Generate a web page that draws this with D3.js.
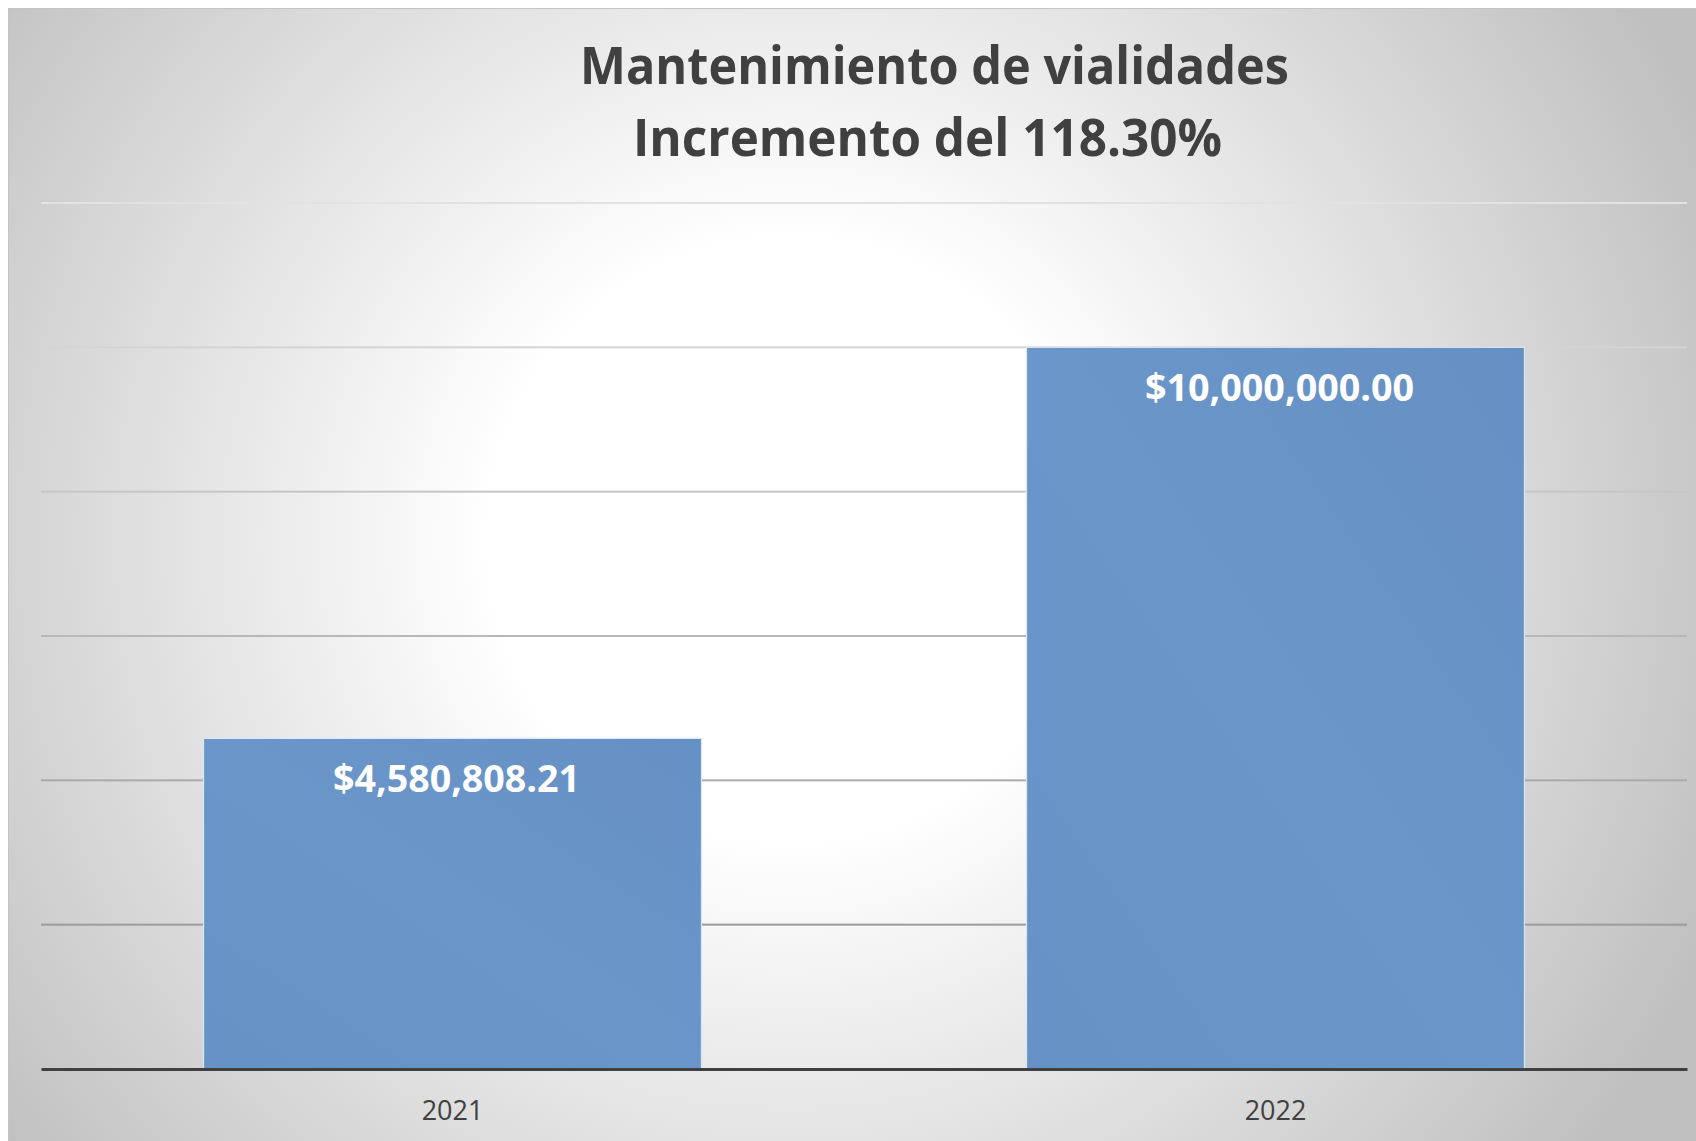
<!DOCTYPE html>
<html><head><meta charset="utf-8">
<script src="https://cdn.jsdelivr.net/npm/d3@7"></script>
<style>body{margin:0;background:#fff;}svg{display:block;}</style>
</head><body>
<svg id="c" width="1696" height="1141"></svg>
<script>
const titleLines = ["Mantenimiento de vialidades", "Incremento del 118.30%"];
const categories = ["2021", "2022"];
const values = [4580808.21, 10000000];
const valueLabels = ["$4,580,808.21", "$10,000,000.00"];
const yTicks = [0, 2000000, 4000000, 6000000, 8000000, 10000000, 12000000];

(function(){
const svg = d3.select("#c");
const W = 1696, H = 1141;
const pL = 41, pR = 1687, pT = 203, pB = 1069;
const defs = svg.append("defs");
const rg = defs.append("radialGradient").attr("id","bg").attr("gradientUnits","userSpaceOnUse")
  .attr("cx",790).attr("cy",540).attr("r",1000);
rg.append("stop").attr("offset",0).attr("stop-color","#ffffff");
rg.append("stop").attr("offset",0.3).attr("stop-color","#ffffff");
rg.append("stop").attr("offset",1).attr("stop-color","#c0c0c0");

const bg2 = defs.append("linearGradient").attr("id","bar").attr("x1",0).attr("y1",1).attr("x2",1).attr("y2",0);
bg2.append("stop").attr("offset",0).attr("stop-color","#6792c5");
bg2.append("stop").attr("offset",0.5).attr("stop-color","#6a96c9");
bg2.append("stop").attr("offset",1).attr("stop-color","#6690c4");

const gg = defs.append("linearGradient").attr("id","grid").attr("gradientUnits","userSpaceOnUse")
  .attr("x1",0).attr("y1",pT).attr("x2",0).attr("y2",pB);
gg.append("stop").attr("offset",0).attr("stop-color","#e2e2e2");
gg.append("stop").attr("offset",1).attr("stop-color","#8e8e8e");

svg.append("rect").attr("x",8.5).attr("y",8.5).attr("width",W-8).attr("height",H-8)
  .attr("fill","url(#bg)").attr("stroke","#c4c4c4").attr("stroke-width",1);

const x = d3.scaleBand().domain(categories).range([pL,pR]).paddingInner(0.395).paddingOuter(0.1975);
const y = d3.scaleLinear().domain([0,12000000]).range([pB,pT]);

// gridlines (drawn as rects so the vertical gradient applies)
svg.append("g").selectAll("rect").data(yTicks.filter(d=>d>0)).join("rect")
  .attr("x",pL).attr("width",pR-pL).attr("y",d=>y(d)-1).attr("height",2)
  .attr("fill","url(#grid)");

// bars
svg.selectAll("rect.bar").data(values).join("rect").attr("class","bar")
  .attr("x",(d,i)=>x(categories[i])).attr("width",x.bandwidth())
  .attr("y",d=>y(d)).attr("height",d=>y(0)-y(d))
  .attr("fill","url(#bar)").attr("stroke","#dbe6f3").attr("stroke-width",1.2);

// baseline / x axis
const xa = svg.append("g").attr("transform",`translate(0,${pB})`)
  .call(d3.axisBottom(x).tickSize(0).tickPadding(0));
xa.select(".domain").attr("stroke","#404040").attr("stroke-width",3.2);
xa.selectAll(".tick text").attr("font-family","'Open Sans', sans-serif").attr("font-size",27)
  .attr("fill","#404040").attr("dy",null).attr("y",51);

// value labels
svg.selectAll("text.vl").data(values).join("text").attr("class","vl")
  .attr("x",(d,i)=>x(categories[i])+x.bandwidth()/2+4).attr("y",d=>y(d)+54)
  .attr("text-anchor","middle").attr("font-family","'Open Sans', sans-serif").attr("font-weight",700)
  .attr("font-size",38).attr("fill","#ffffff")
  .attr("textLength",(d,i)=>i===0?247:269).attr("lengthAdjust","spacingAndGlyphs")
  .text((d,i)=>valueLabels[i]);

// title
const tl = [{t:titleLines[0],y:84,w:709,cx:934.5},{t:titleLines[1],y:156,w:589,cx:927.5}];
svg.selectAll("text.title").data(tl).join("text").attr("class","title")
  .attr("x",d=>d.cx).attr("y",d=>d.y).attr("text-anchor","middle")
  .attr("font-family","'Open Sans', sans-serif").attr("font-weight",700).attr("font-size",52)
  .attr("fill","#404040").attr("textLength",d=>d.w).attr("lengthAdjust","spacingAndGlyphs")
  .text(d=>d.t);
})();
</script>
</body></html>
